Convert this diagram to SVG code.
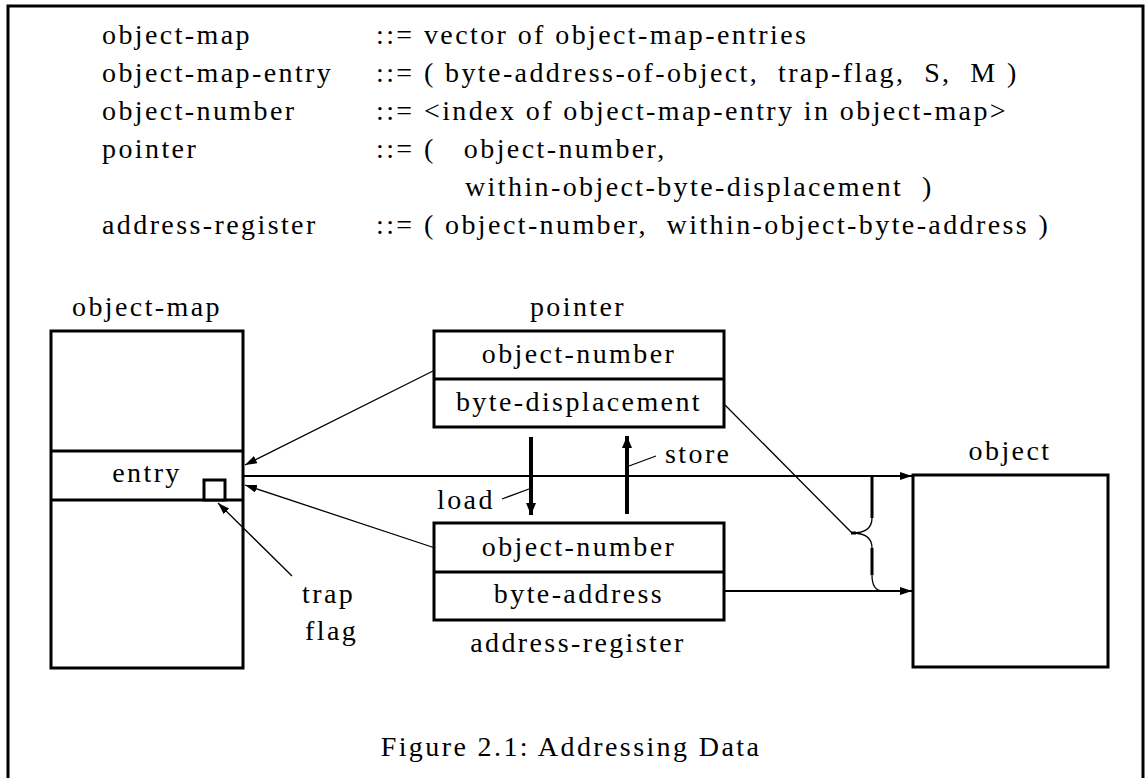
<svg xmlns="http://www.w3.org/2000/svg" width="1145" height="778" viewBox="0 0 1145 778">
<style>
  text { font-family: "Liberation Serif", "Times New Roman", "DejaVu Serif", serif; font-size: 28px; letter-spacing: 2.4px; fill: #000; white-space: pre; }
  .mid { text-anchor: middle; }
  .box { fill: #fff; stroke: #000; stroke-width: 3; }
  .div { stroke: #000; stroke-width: 3; }
  .thin { stroke: #000; stroke-width: 1.3; fill: none; }
  .med { stroke: #000; stroke-width: 2; fill: none; }
  .thick { stroke: #000; stroke-width: 4; fill: none; }
  .frame { stroke: #000; stroke-width: 3; fill: none; }
</style>
<defs>
  <marker id="ah" markerUnits="userSpaceOnUse" markerWidth="12" markerHeight="8" refX="12" refY="4" orient="auto">
    <path d="M0,0 L12,4 L0,8 z" fill="#000"/>
  </marker>
  <marker id="ahBig" markerUnits="userSpaceOnUse" markerWidth="12" markerHeight="10" refX="12" refY="5" orient="auto">
    <path d="M0,0 L12,5 L0,10 z" fill="#000"/>
  </marker>
</defs>

<!-- frame -->
<path class="frame" d="M8,778 L8,6 L1143,6 L1143,778"/>

<!-- grammar -->
<g id="grammar">
  <text x="102" y="44">object-map</text>
  <text x="376" y="44">::= vector of object-map-entries</text>
  <text x="102" y="82">object-map-entry</text>
  <text x="376" y="82">::= ( byte-address-of-object,  trap-flag,  S,  M )</text>
  <text x="102" y="120">object-number</text>
  <text x="376" y="120">::= &lt;index of object-map-entry in object-map&gt;</text>
  <text x="102" y="158">pointer</text>
  <text x="376" y="158">::= (   object-number,</text>
  <text x="465" y="196">within-object-byte-displacement  )</text>
  <text x="102" y="234">address-register</text>
  <text x="376" y="234">::= ( object-number,  within-object-byte-address )</text>
</g>

<!-- object-map node -->
<g id="object-map">
  <text class="mid" x="147" y="316">object-map</text>
  <rect class="box" x="51" y="331" width="192" height="337"/>
  <line class="div" x1="51" y1="451" x2="243" y2="451"/>
  <line class="div" x1="51" y1="500" x2="243" y2="500"/>
  <text class="mid" x="147" y="482">entry</text>
  <rect class="box" x="204" y="480" width="21" height="20"/>
</g>

<!-- pointer node -->
<g id="pointer">
  <text class="mid" x="578" y="316">pointer</text>
  <rect class="box" x="434" y="331" width="290" height="96"/>
  <line class="div" x1="434" y1="379" x2="724" y2="379"/>
  <text class="mid" x="579" y="363">object-number</text>
  <text class="mid" x="579" y="411">byte-displacement</text>
</g>

<!-- address-register node -->
<g id="address-register">
  <rect class="box" x="434" y="523" width="290" height="97"/>
  <line class="div" x1="434" y1="572" x2="724" y2="572"/>
  <text class="mid" x="579" y="556">object-number</text>
  <text class="mid" x="579" y="603">byte-address</text>
  <text class="mid" x="578" y="652">address-register</text>
</g>

<!-- object node -->
<g id="object">
  <text class="mid" x="1010" y="460">object</text>
  <rect class="box" x="913" y="475" width="195" height="192"/>
</g>

<!-- labels -->
<g id="labels">
  <text x="302" y="603">trap</text>
  <text x="305" y="640">flag</text>
  <text x="437" y="509">load</text>
  <text x="665" y="463">store</text>
</g>

<!-- connectors -->
<g id="connectors">
  <line class="thin" x1="435" y1="370" x2="245" y2="465" marker-end="url(#ah)"/>
  <line class="thin" x1="435" y1="548" x2="245" y2="485" marker-end="url(#ah)"/>
  <line class="thin" x1="292" y1="576" x2="218" y2="503" marker-end="url(#ah)"/>
  <line class="med" x1="243" y1="476" x2="912" y2="476" marker-end="url(#ah)"/>
  <line class="med" x1="724" y1="591" x2="912" y2="591" marker-end="url(#ah)"/>
  <line class="thick" x1="531" y1="437" x2="531" y2="515" marker-end="url(#ahBig)"/>
  <line class="thick" x1="627" y1="514" x2="627" y2="436" marker-end="url(#ahBig)"/>
  <line class="thin" x1="502" y1="499" x2="529" y2="489"/>
  <line class="thin" x1="629" y1="466" x2="656" y2="456"/>
  <line class="thin" x1="725" y1="405" x2="852" y2="533"/>
  <line class="div" x1="872" y1="477" x2="872" y2="518"/>
  <line class="div" x1="872" y1="548" x2="872" y2="575"/>
  <path class="thin" d="M872,518 Q872,533 852,533 Q872,533 872,548"/>
  <path class="thin" d="M872,575 Q872,591 883,591"/>
  <line class="div" x1="851" y1="533" x2="856" y2="533"/>
</g>

<!-- caption -->
<text class="mid" x="571" y="756">Figure 2.1: Addressing Data</text>
</svg>
